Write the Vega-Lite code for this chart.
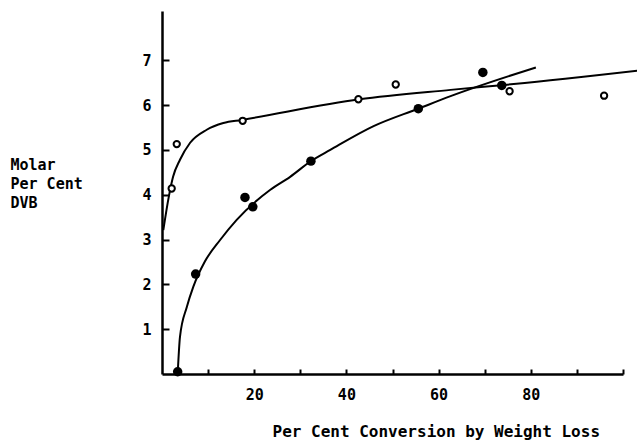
{
  "$schema": "https://vega.github.io/schema/vega-lite/v6.json",
  "width": 461,
  "height": 363,
  "autosize": {"type": "none"},
  "padding": {"left": 162, "top": 11, "right": 14, "bottom": 67},
  "background": "white",
  "config": {
    "view": {"stroke": null},
    "font": "DejaVu Sans Mono",
    "axis": {
      "grid": false,
      "domainColor": "black",
      "domainWidth": 2.5,
      "tickColor": "black",
      "tickWidth": 2,
      "labelColor": "black",
      "labelFont": "DejaVu Sans Mono",
      "labelFontWeight": "bold",
      "labelFontSize": 15,
      "titleColor": "black",
      "titleFont": "DejaVu Sans Mono",
      "titleFontWeight": "bold",
      "labelOverlap": false,
      "labelFlush": false
    }
  },
  "datasets": {
    "curves": [
      {"series": "open", "x": 0.28, "y": 3.21},
      {"series": "open", "x": 1.5, "y": 3.97},
      {"series": "open", "x": 2.4, "y": 4.4},
      {"series": "open", "x": 3.9, "y": 4.78},
      {"series": "open", "x": 6.1, "y": 5.16},
      {"series": "open", "x": 9.7, "y": 5.45},
      {"series": "open", "x": 13.3, "y": 5.6},
      {"series": "open", "x": 17.4, "y": 5.67},
      {"series": "open", "x": 42.8, "y": 6.13},
      {"series": "open", "x": 62.6, "y": 6.34},
      {"series": "open", "x": 76.3, "y": 6.47},
      {"series": "open", "x": 103.2, "y": 6.77},
      {"series": "filled", "x": 3.4, "y": 0.0},
      {"series": "filled", "x": 3.9, "y": 0.83},
      {"series": "filled", "x": 5.4, "y": 1.5},
      {"series": "filled", "x": 6.8, "y": 1.95},
      {"series": "filled", "x": 9.3, "y": 2.51},
      {"series": "filled", "x": 12.6, "y": 2.99},
      {"series": "filled", "x": 16.2, "y": 3.44},
      {"series": "filled", "x": 23.5, "y": 4.11},
      {"series": "filled", "x": 27.8, "y": 4.4},
      {"series": "filled", "x": 32.3, "y": 4.75},
      {"series": "filled", "x": 36.5, "y": 5.0},
      {"series": "filled", "x": 45.9, "y": 5.53},
      {"series": "filled", "x": 55.6, "y": 5.92},
      {"series": "filled", "x": 62.6, "y": 6.2},
      {"series": "filled", "x": 81.1, "y": 6.84}
    ],
    "openPoints": [
      {"x": 2.1, "y": 4.14},
      {"x": 3.2, "y": 5.13},
      {"x": 17.5, "y": 5.65},
      {"x": 42.6, "y": 6.13},
      {"x": 50.7, "y": 6.46},
      {"x": 75.4, "y": 6.31},
      {"x": 95.9, "y": 6.21}
    ],
    "filledPoints": [
      {"x": 3.4, "y": 0.05},
      {"x": 7.3, "y": 2.23},
      {"x": 18.0, "y": 3.94},
      {"x": 19.7, "y": 3.73},
      {"x": 32.3, "y": 4.75},
      {"x": 55.6, "y": 5.92},
      {"x": 69.6, "y": 6.73},
      {"x": 73.7, "y": 6.44}
    ]
  },
  "encoding": {
    "x": {
      "field": "x",
      "type": "quantitative",
      "scale": {"domain": [0, 100], "nice": false, "zero": false},
      "axis": {
        "values": [10, 20, 30, 40, 50, 60, 70, 80, 90, 100],
        "labelExpr": "(datum.value == 20 || datum.value == 40 || datum.value == 60 || datum.value == 80) ? datum.label : ''",
        "tickSize": -5,
        "labelPadding": 18,
        "title": "Per Cent Conversion by Weight Loss",
        "titleFontSize": 16,
        "titleAlign": "left",
        "titleAnchor": "start",
        "titleX": 110,
        "titleY": 62,
        "titleBaseline": "alphabetic"
      }
    },
    "y": {
      "field": "y",
      "type": "quantitative",
      "scale": {"domain": [0, 8.1], "nice": false, "zero": false},
      "axis": {
        "values": [1, 2, 3, 4, 5, 6, 7],
        "tickSize": -7,
        "labelPadding": 18,
        "title": ["Molar", "Per Cent", "DVB"],
        "titleFontSize": 15,
        "titleAngle": 0,
        "titleAlign": "left",
        "titleBaseline": "alphabetic",
        "titleLineHeight": 19,
        "titleX": -152,
        "titleY": 158
      }
    }
  },
  "layer": [
    {
      "data": {"name": "curves"},
      "mark": {"type": "line", "color": "black", "strokeWidth": 2, "interpolate": "monotone"},
      "encoding": {"detail": {"field": "series"}}
    },
    {
      "data": {"name": "openPoints"},
      "mark": {"type": "point", "shape": "circle", "filled": true, "fill": "white", "stroke": "black", "strokeWidth": 2, "size": 40, "opacity": 1}
    },
    {
      "data": {"name": "filledPoints"},
      "mark": {"type": "circle", "color": "black", "size": 90, "opacity": 1}
    }
  ]
}
